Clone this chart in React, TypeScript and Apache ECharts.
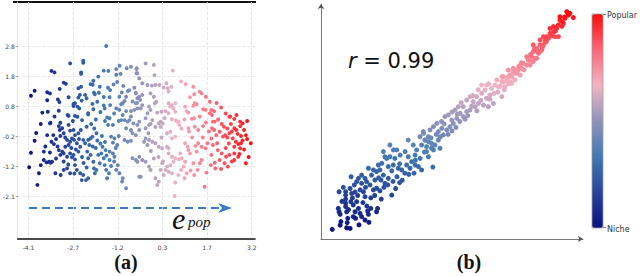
import React, { useEffect, useRef } from "react";
import * as echarts from "echarts";

// ---------- data ----------
const xTickValues = [-4.1, -2.64, -1.18, 0.28, 1.74, 3.2];
const xTickLabels = ["-4.1", "-2.7", "-1.2", "0.3", "1.7", "3.2"];
const yTickValues = [-2.2, -1.2, -0.2, 0.8, 1.8, 2.8];
const yTickLabels = ["-2.1", "-1.2", "-0.2", "0.8", "1.8", "2.8"];

const palette = ["#0b1280", "#26449a", "#4079b2", "#8f93bd", "#f2b4c4", "#fd6676", "#ff0a0a"];

// panel (a): embedding projection, colour by popularity axis (x)
const embeddingPoints: number[][] = [
  [-1.56,2.8],[-2.74,2.22],[-2.31,2.31],[-2.31,2.24],[-3.35,1.97],[-3.25,1.92],[-2.38,1.92],[-2.38,1.87],[-1.64,1.98],[-1.49,1.97],
  [-1.23,2.03],[-1.12,2.14],[-1.09,1.87],[-1.23,1.84],[-0.89,2.06],[-0.75,2.11],[-0.57,2.03],[-0.57,1.89],[-1.82,1.78],[-1.98,1.64],
  [-2.07,1.53],[-2.0,1.51],[-2.38,1.44],[-2.47,1.39],[-2.95,1.58],[-2.88,1.54],[-3.08,1.37],[-3.9,1.31],[-4.02,1.14],[-3.49,1.26],
  [-3.4,1.22],[-3.49,0.99],[-3.14,1.02],[-3.09,0.93],[-2.79,1.09],[-1.77,1.44],[-1.8,1.24],[-1.96,1.24],[-1.93,1.19],[-1.64,1.1],
  [-1.5,1.41],[-1.43,1.33],[-1.32,1.52],[-1.45,1.09],[-1.43,0.83],[-1.64,0.82],[-1.61,0.72],[-2.25,1.17],[-2.2,1.06],[-2.47,1.08],
  [-2.42,1.17],[-2.36,0.98],[-2.58,0.89],[-2.5,0.78],[-2.44,0.72],[-2.63,0.87],[-2.63,0.8],[-1.85,0.94],[-2.01,0.87],[-1.98,0.69],
  [-2.15,0.56],[-2.15,0.52],[-3.11,0.64],[-3.65,0.58],[-3.47,0.61],[-2.82,0.5],[-2.79,0.47],[-2.58,0.47],[-2.5,0.44],[-2.35,0.33],
  [-3.38,0.24],[-3.06,0.24],[-1.02,0.89],[-0.96,0.97],[-1.13,1.11],[-0.91,1.11],[-0.8,1.33],[-0.64,1.41],[-1.07,0.86],[-1.23,0.72],
  [-1.13,0.67],[-0.91,0.63],[-0.75,0.63],[-0.64,0.67],[-0.54,0.72],[-0.8,0.33],[-0.67,0.22],[-0.48,0.28],[-1.02,0.5],[-0.96,0.33],
  [-1.53,0.42],[-1.45,0.39],[-0.59,1.22],[-0.48,1.11],[-1.2,1.6],[-1.0,1.47],[-0.85,1.3],[-1.05,1.25],[-0.7,0.95],[-0.55,0.9],
  [-0.75,0.45],[-1.15,0.3],[-1.3,0.55],[-1.75,0.6],[-1.9,0.35],[-1.6,0.3],
  [-0.27,2.22],[0.0,2.17],[0.62,1.98],[-0.56,2.06],[-0.54,1.89],[-0.48,1.72],[0.02,1.83],[-0.38,1.56],[-0.21,1.5],[-0.07,1.48],
  [0.05,1.5],[0.18,1.5],[0.41,1.56],[0.57,1.44],[0.45,1.39],[0.32,1.42],[0.48,1.28],[0.89,1.62],[1.04,1.53],[1.29,1.44],
  [1.5,1.28],[1.56,1.22],[1.32,1.19],[1.7,1.11],[1.83,0.94],[1.18,1.09],[1.34,0.89],[1.4,0.86],[1.29,0.81],[-0.11,1.22],
  [0.0,1.11],[0.08,0.94],[0.03,0.89],[-0.38,1.17],[-0.45,1.0],[-0.38,0.83],[-0.43,0.72],[-0.59,1.24],[-0.54,1.06],[-0.59,0.89],
  [-0.16,0.78],[-0.11,0.67],[-0.21,0.56],[-0.27,0.39],[0.11,0.58],[0.25,0.61],[0.38,0.63],[0.48,0.89],[0.59,0.83],[0.7,0.89],
  [0.54,0.78],[0.64,0.72],[0.7,0.61],[0.48,0.56],[0.59,0.36],[0.72,0.33],[0.81,0.28],[1.02,0.78],[1.07,0.63],[1.13,0.58],
  [1.24,0.37],[1.32,0.39],[1.61,0.69],[1.69,0.67],[1.88,0.67],[1.97,0.63],[1.83,0.56],[1.9,0.5],[1.99,0.28],[2.22,0.2],
  [2.47,0.44],[2.63,0.37],[2.82,0.28],[0.22,0.28],[0.29,0.22],[-0.05,0.33],[-0.11,0.2],
  [-3.4,0.22],[-3.9,-0.36],[-4.02,-0.76],[-4.08,-1.24],[-3.6,-0.72],[-3.49,-0.17],[-3.29,-0.17],[-3.35,-0.39],[-3.27,-0.47],[-3.11,0.13],
  [-3.0,0.06],[-3.08,0.0],[-2.95,-0.11],[-3.06,-0.2],[-2.79,0.17],[-2.74,-0.02],[-2.63,0.0],[-2.58,-0.17],[-2.68,-0.28],[-2.84,-0.33],
  [-2.74,-0.39],[-2.79,-0.5],[-2.9,-0.56],[-2.61,-0.33],[-2.52,-0.44],[-2.41,-0.56],[-2.47,-0.72],[-3.11,-0.67],[-3.0,-0.72],[-3.06,-0.83],
  [-2.95,-0.78],[-2.84,-0.89],[-2.74,-0.78],[-2.68,-0.91],[-2.58,-0.98],[-2.63,-0.83],[-3.6,-1.0],[-3.51,-1.08],[-3.43,-1.06],[-3.38,-1.09],
  [-3.33,-1.06],[-3.7,-1.17],[-3.76,-1.44],[-3.81,-1.83],[-3.22,-1.44],[-2.95,-1.33],[-2.84,-1.28],[-2.74,-1.44],[-2.58,-1.17],[-2.52,-1.33],
  [-2.41,-1.44],[-2.31,-1.5],[-2.36,-1.67],[-2.22,-1.67],[-2.15,-1.61],[-2.47,-0.11],[-2.39,0.0],[-2.2,0.11],[-2.31,-0.33],[-2.25,-0.44],
  [-2.15,-0.33],[-2.07,-0.28],[-2.01,-0.22],[-2.11,-0.5],[-2.18,-0.72],[-2.07,-0.83],[-2.15,-0.94],[-1.98,-1.06],[-1.96,-1.28],[-1.88,-1.33],
  [-1.93,-1.44],[-1.82,-0.83],[-1.72,-0.78],[-1.64,-0.94],[-1.77,-1.11],[-1.61,-1.17],[-1.56,-1.33],[-1.47,-1.44],[-1.53,-1.61],[-1.88,-0.11],
  [-1.68,-0.56],[-1.58,-0.67],[-1.45,-0.72],[-1.34,-0.78],[-1.29,-0.89],[-1.5,0.17],[-1.34,0.17],[-1.4,-0.22],[-1.29,-0.28],[-1.34,-0.42],
  [-1.18,-1.17],[-1.23,-1.33],[-1.13,-1.44],[-0.91,-1.94],[-1.04,-1.72],[-1.02,-1.61],[-0.96,-0.33],[-0.86,-0.39],[-0.75,-0.36],[-0.91,0.06],
  [-0.75,0.0],[-0.7,-0.11],[-0.59,-0.17],[-0.7,-0.94],[-0.59,-1.0],[-0.86,0.28],[-1.07,0.33],
  [-3.2,-0.3],[-3.15,-0.55],[-2.9,-0.25],[-2.7,-0.6],[-2.55,-0.65],[-2.45,-0.3],[-2.35,-0.9],[-2.3,-1.1],[-2.2,-1.25],[-2.0,-0.55],
  [-1.9,-0.6],[-1.85,-0.35],[-1.75,-0.45],[-1.7,-0.2],[-1.6,-0.4],[-1.55,-0.85],[-1.45,-1.0],[-1.4,-1.2],[-1.3,-1.05],[-1.25,-0.6],
  [-1.2,-0.5],[-1.15,-0.2],[-2.05,0.2],[-1.95,0.05],[-2.65,0.3],[-3.25,0.45],[-3.7,0.2],[-3.85,-0.1],[-3.55,-0.55],[-3.4,-0.75],
  [-3.2,-0.95],[-2.95,-1.05],[-2.8,-1.15],[-3.05,-1.5],[-2.6,-1.45],
  [-0.54,0.17],[-0.48,0.0],[-0.27,0.06],[-0.16,0.17],[-0.18,-0.11],[0.16,0.22],[0.22,0.11],[0.75,0.28],[0.83,0.17],[1.13,0.06],
  [1.34,0.11],[1.61,0.13],[1.93,0.28],[1.9,0.06],[1.97,0.0],[2.29,0.11],[2.52,0.2],[2.63,0.06],[2.82,0.13],[2.9,0.22],
  [2.04,-0.17],[2.15,-0.06],[2.26,-0.22],[2.33,-0.17],[2.47,-0.11],[2.58,-0.28],[2.74,-0.13],[2.85,-0.2],[3.01,-0.17],[3.17,-0.44],
  [1.88,-0.28],[1.75,-0.44],[1.93,-0.5],[2.07,-0.44],[2.09,-0.67],[2.68,-0.39],[2.76,-0.47],[2.85,-0.44],[2.63,-0.56],[2.82,-0.61],
  [1.56,-0.56],[1.69,-0.61],[1.45,-0.44],[1.36,-0.53],[1.4,-0.72],[1.02,-0.44],[1.11,-0.56],[1.13,-0.67],[1.18,-0.78],[2.22,-0.78],
  [2.36,-0.89],[2.47,-0.83],[2.63,-0.78],[2.76,-0.89],[3.01,-1.11],[2.63,-1.0],[2.31,-1.11],[2.42,-1.22],[1.88,-0.83],[1.99,-1.09],
  [1.86,-1.17],[1.72,-1.42],[2.01,-1.28],[1.56,-1.0],[1.5,-1.11],[1.43,-1.33],[1.32,-1.5],[1.29,-1.11],[1.66,-1.89],[0.86,-0.78],
  [0.91,-0.94],[1.02,-1.06],[0.97,-1.22],[0.89,-1.33],[1.07,-1.44],[1.0,-1.61],[0.68,-2.2],[0.48,-0.78],[0.59,-0.89],[0.7,-0.94],
  [0.81,-0.98],[0.64,-1.06],[0.54,-1.17],[0.43,-1.22],[0.27,-1.11],[0.38,-1.33],[0.48,-1.39],[0.59,-1.44],[0.22,-1.33],[0.32,-1.5],
  [0.05,-1.61],[0.16,-1.72],[0.11,-1.83],[-0.16,-1.22],[-0.11,-1.33],[-0.27,-1.06],[-0.38,-1.0],[-0.48,-0.89],[-0.54,-1.06],[-0.48,-1.56],
  [-0.43,-1.56],[-0.27,-0.28],[-0.16,-0.33],[-0.21,-0.5],[-0.32,-0.39],[-0.05,-0.39],[0.05,-0.44],[0.16,-0.56],[0.27,-0.61],[0.43,-0.56],
  [0.48,-0.61],[0.43,-0.11],[0.59,-0.28],[0.7,-0.22],[0.54,-0.06],
  [2.4,0.05],[2.55,-0.05],[2.7,0.0],[2.95,0.0],[3.05,-0.3],[2.9,-0.35],[2.45,-0.45],[2.35,-0.6],[2.95,-0.65],[3.1,-0.9],
  [2.55,-1.05],[2.15,-1.0],[2.2,-1.3],[2.8,-0.8],[2.5,0.45],[2.7,0.5],[2.35,0.55],[2.2,0.75],[2.05,0.9],[2.4,-0.25],
  [2.1,0.35],[3.05,0.3],[1.7,0.25],[1.5,0.45],[1.45,0.0],[1.25,-0.25],[1.6,-0.25],[1.8,-0.05],[1.2,-1.35],[0.8,-1.5],
  [0.7,-1.75],[0.3,-1.05],[0.15,-0.9],[0.0,-0.95],[-0.1,-0.7],[0.25,-0.25],[0.05,0.1],[0.35,0.4],[0.9,0.05],[1.0,0.35],[1.15,-0.05],
];

// panel (b): correlation scatter (arbitrary units 0..10)
const correlationPoints: number[][] = [
  [0.43,0.41],[0.73,0.59],[0.98,0.48],[1.11,0.45],[0.76,0.74],[0.69,2.01],[0.69,1.16],[0.73,1.05],[0.66,1.3],[0.94,2.01],
  [0.94,1.87],[0.94,1.7],[0.94,1.52],[0.94,1.38],[0.98,1.16],[1.02,0.88],[1.11,2.15],[1.17,1.94],[1.14,1.59],[1.23,1.45],
  [1.3,1.16],[1.23,0.95],[1.32,0.88],[1.36,1.59],[1.43,1.3],[1.49,1.09],[1.55,0.95],[1.68,0.81],[1.83,0.71],[1.27,2.3],
  [1.36,2.44],[1.43,2.58],[1.55,2.37],[1.49,2.09],[1.62,2.01],[1.68,1.8],[1.78,1.19],[1.81,1.05],[2.12,1.16],[2.16,1.3],
  [1.55,2.72],[1.68,2.58],[1.74,2.44],[1.87,2.3],[1.93,2.72],[2.06,2.51],[2.0,2.09],[2.12,2.16],[1.81,3.01],[2.0,2.94],
  [2.12,2.87],[2.25,2.94],[2.38,2.72],[2.29,2.51],[2.44,2.37],[2.57,2.58],[2.7,1.87],[2.19,3.15],[2.32,3.22],[2.51,3.43],
  [2.63,3.5],[2.82,3.43],[2.76,3.15],[2.95,3.01],[3.08,2.94],[2.57,3.08],[2.89,3.79],[3.02,3.57],[3.21,3.72],[3.33,3.5],
  [3.46,3.29],[3.59,3.15],[3.27,3.15],[3.4,3.01],[3.72,3.08],[3.84,2.94],[3.33,4.21],[3.52,4.0],[3.65,3.79],[3.84,4.0],
  [3.97,4.21],[4.03,3.72],[4.1,3.5],[4.22,3.86],[3.9,4.57],[4.1,4.35],[3.78,3.43],[3.59,3.57],[2.63,4.0],[2.76,3.79],
  [2.38,3.72],[2.44,3.5],[0.8,1.6],[1.05,1.25],[1.2,1.75],[1.4,1.85],[1.6,1.55],[1.75,1.4],[1.9,1.75],[2.05,1.85],
  [2.25,2.05],[2.4,2.2],[2.55,2.3],[2.75,2.45],[2.9,2.65],[3.0,2.4],[3.2,2.8],[3.35,2.75],[1.0,0.7],[1.45,0.6],
  [1.9,1.3],[2.3,1.7],[2.85,2.15],[3.1,2.5],[3.55,2.8],[3.6,3.35],[3.0,3.2],[2.7,2.9],[2.2,2.6],[1.7,2.2],
  [1.3,2.0],[0.85,2.2],[1.15,2.65],[4.27,3.06],
  [3.78,4.35],[3.91,4.5],[3.97,4.21],[4.1,4.14],[4.03,3.93],[4.22,4.07],[4.35,4.0],[4.48,4.21],[4.54,3.86],[4.29,3.79],
  [4.16,4.64],[4.29,4.78],[4.42,4.92],[4.48,4.57],[4.61,4.71],[4.67,4.43],[4.8,4.64],[4.92,4.78],[4.73,5.21],[4.86,5.28],
  [4.99,5.06],[5.05,4.92],[5.18,5.13],[5.31,5.35],[5.12,5.49],[5.24,5.63],[5.43,5.63],[5.43,5.21],[5.56,5.42],[5.69,5.49],
  [5.56,5.91],[5.69,6.06],[5.81,5.84],[5.94,6.06],[6.01,5.77],[5.88,5.63],[6.13,6.2],[6.26,6.34],[6.32,5.99],[6.45,6.13],
  [6.51,6.41],[6.64,6.55],[6.77,6.48],[6.71,6.77],[6.9,6.7],[6.96,6.91],[7.09,6.84],[7.02,6.48],[7.21,6.98],[7.28,6.62],
  [7.4,7.05],[7.47,7.19],[7.34,7.26],[7.15,7.19],[6.39,5.63],[6.58,5.77],[6.9,6.06],[6.32,6.55],[6.13,6.55],
  [4.6,5.0],[4.85,4.45],[5.0,4.6],[5.15,4.75],[5.3,5.0],[5.5,5.1],[5.6,5.25],[5.75,5.65],[5.95,5.45],[6.1,5.9],
  [6.2,5.7],[6.45,5.95],[6.6,6.2],[6.75,6.25],[7.0,6.35],[7.15,6.6],[6.85,6.5],[6.4,6.6],[6.0,6.35],[5.35,5.8],
  [5.0,5.4],[4.55,4.35],[4.4,4.45],[4.2,4.3],[3.95,3.7],[4.7,4.9],[5.2,5.3],[5.8,6.1],
  [9.38,9.67],[9.44,9.53],[9.63,9.42],[9.31,9.39],[9.19,9.25],[9.06,9.11],[9.12,9.32],[9.25,9.18],[8.99,8.96],[8.87,8.82],
  [8.74,8.75],[8.93,8.61],[9.06,8.61],[8.68,8.54],[8.55,8.4],[8.49,8.26],[8.36,8.26],[8.42,8.04],[8.23,8.11],[8.1,7.97],
  [8.3,7.9],[8.17,7.69],[8.04,7.76],[7.91,7.62],[7.98,7.4],[7.85,7.4],[7.72,7.47],[7.66,7.26],[7.53,7.19],[7.47,7.05],
  [7.34,7.12],[7.28,6.91],[7.15,6.91],[7.09,6.77],[6.96,6.69],[8.87,9.04],[8.61,8.61],[8.36,8.47],[8.1,8.26],[8.23,7.69],
  [7.6,6.98],[7.4,6.77],[7.21,6.69],[6.9,6.91],[8.1,7.55],[8.36,7.97],[8.74,8.96],[8.49,8.61],[9.12,9.46],[9.5,9.6],
  [7.75,7.2],[7.95,7.6],[8.0,7.85],[8.25,8.0],[8.45,8.15],[8.6,8.4],[8.8,8.65],[8.95,8.85],[9.0,9.0],[9.3,9.45],
  [7.55,7.35],[7.65,7.5],[7.85,7.75],[8.15,8.1],[8.55,8.55],[9.2,9.05],
];

const colorbarLabels = ["Popular", "Niche"];
const correlationText = "0.99";

export default function App() {
  const ref = useRef<HTMLDivElement>(null);
  useEffect(() => {
    if (!ref.current) return;
    const chart = echarts.init(ref.current, null, { renderer: "svg" });
    const labelFor = (vals: number[], labels: string[]) => (v: number) => {
      let best = 0;
      for (let i = 1; i < vals.length; i++) if (Math.abs(vals[i] - v) < Math.abs(vals[best] - v)) best = i;
      return Math.abs(vals[best] - v) < 0.05 ? labels[best] : "";
    };
    chart.setOption({
      animation: false,
      textStyle: { fontFamily: "DejaVu Sans" },
      grid: [
        { left: 14, top: 2, width: 241, height: 237 },
        { left: 321, top: 4, width: 262, height: 235 },
      ],
      xAxis: [
        {
          gridIndex: 0, type: "value", min: -4.454, max: 3.307,
          axisLine: { onZero: false, lineStyle: { color: "#111", width: 1.6 } },
          axisTick: { show: false, customValues: xTickValues },
          axisLabel: { customValues: xTickValues, formatter: labelFor(xTickValues, xTickLabels), fontSize: 6, color: "#444", margin: 5 },
          splitLine: { show: true, lineStyle: { type: [3, 2], color: "#e0e0e0", width: 0.8 } },
        },
        {
          gridIndex: 1, type: "value", min: 0, max: 10,
          axisLine: { onZero: false, lineStyle: { color: "#555", width: 0.8 }, symbol: ["none", "arrow"], symbolSize: [5, 5] },
          axisTick: { show: false }, axisLabel: { show: false }, splitLine: { show: false },
        },
      ],
      yAxis: [
        {
          gridIndex: 0, type: "value", min: -3.633, max: 4.267,
          axisLine: { show: true, onZero: false, lineStyle: { color: "#e0e0e0", width: 0.8 } },
          axisTick: { show: true, length: 2, customValues: yTickValues, lineStyle: { color: "#999" } },
          axisLabel: { customValues: yTickValues, formatter: labelFor(yTickValues, yTickLabels), fontSize: 6, color: "#444", margin: 3 },
          splitLine: { show: true, lineStyle: { type: [3, 2], color: "#e0e0e0", width: 0.8 } },
        },
        {
          gridIndex: 1, type: "value", min: 0, max: 10,
          axisLine: { onZero: false, lineStyle: { color: "#555", width: 0.8 }, symbol: ["none", "arrow"], symbolSize: [5, 5] },
          axisTick: { show: false }, axisLabel: { show: false }, splitLine: { show: false },
        },
      ],
      visualMap: [
        { type: "continuous", show: false, seriesIndex: 0, dimension: 0, min: -4.1, max: 3.2, inRange: { color: palette } },
        {
          type: "continuous", show: true, seriesIndex: 1, dimension: 1, min: 0.4, max: 9.6,
          left: 592, top: 14, itemWidth: 11, itemHeight: 214, padding: 0, calculable: false,
          inRange: { color: palette },
        },
      ],
      series: [
        { type: "scatter", xAxisIndex: 0, yAxisIndex: 0, symbolSize: 3.9, data: embeddingPoints, itemStyle: { opacity: 1 } },
        { type: "scatter", xAxisIndex: 1, yAxisIndex: 1, symbolSize: 5, data: correlationPoints, itemStyle: { opacity: 1 } },
      ],
      graphic: [
        { type: "line", shape: { x1: 13, y1: 2, x2: 256, y2: 2 }, style: { stroke: "#111", lineWidth: 2 } },
        { type: "line", shape: { x1: 29, y1: 208, x2: 222, y2: 208 }, style: { stroke: "#3b7cc0", lineWidth: 2, lineDash: [8, 5] } },
        { type: "polygon", shape: { points: [[218, 203], [232, 208], [218, 213], [222, 208]] }, style: { fill: "#3b7cc0" } },
        { type: "text", x: 172, y: 218, style: { text: "e", fontFamily: "Liberation Serif", fontStyle: "italic", fontSize: 30, fill: "#111", verticalAlign: "middle" } },
        { type: "text", x: 188, y: 222, style: { text: "pop", fontFamily: "Liberation Serif", fontStyle: "italic", fontSize: 15, fill: "#111", verticalAlign: "middle" } },
        { type: "text", x: 126, y: 262, style: { text: "(a)", fontFamily: "Liberation Serif", fontWeight: "bold", fontSize: 20, fill: "#111", align: "center", verticalAlign: "middle" } },
        { type: "text", x: 469, y: 262, style: { text: "(b)", fontFamily: "Liberation Serif", fontWeight: "bold", fontSize: 20, fill: "#111", align: "center", verticalAlign: "middle" } },
        {
          type: "text", x: 348, y: 61,
          style: {
            text: "{i|r} = " + correlationText, fontFamily: "DejaVu Sans", fontSize: 21, fill: "#111", verticalAlign: "middle",
            rich: { i: { fontStyle: "italic", fontFamily: "DejaVu Sans", fontSize: 21, fill: "#111" } },
          },
        },
        { type: "rect", shape: { x: 592, y: 14, width: 11, height: 214 }, style: { fill: "none", stroke: "#999", lineWidth: 0.8 }, z: 10 },
        { type: "line", shape: { x1: 603, y1: 14.5, x2: 606, y2: 14.5 }, style: { stroke: "#666", lineWidth: 0.8 } },
        { type: "line", shape: { x1: 603, y1: 227.5, x2: 606, y2: 227.5 }, style: { stroke: "#666", lineWidth: 0.8 } },
        { type: "text", x: 607, y: 15, style: { text: colorbarLabels[0], fontFamily: "DejaVu Sans", fontSize: 8, fill: "#333", verticalAlign: "middle" } },
        { type: "text", x: 607, y: 229, style: { text: colorbarLabels[1], fontFamily: "DejaVu Sans", fontSize: 8, fill: "#333", verticalAlign: "middle" } },
      ],
    });
    return () => chart.dispose();
  }, []);
  return <div ref={ref} style={{ position: "fixed", left: 0, top: 0, width: 640, height: 276, background: "#fff" }} />;
}
